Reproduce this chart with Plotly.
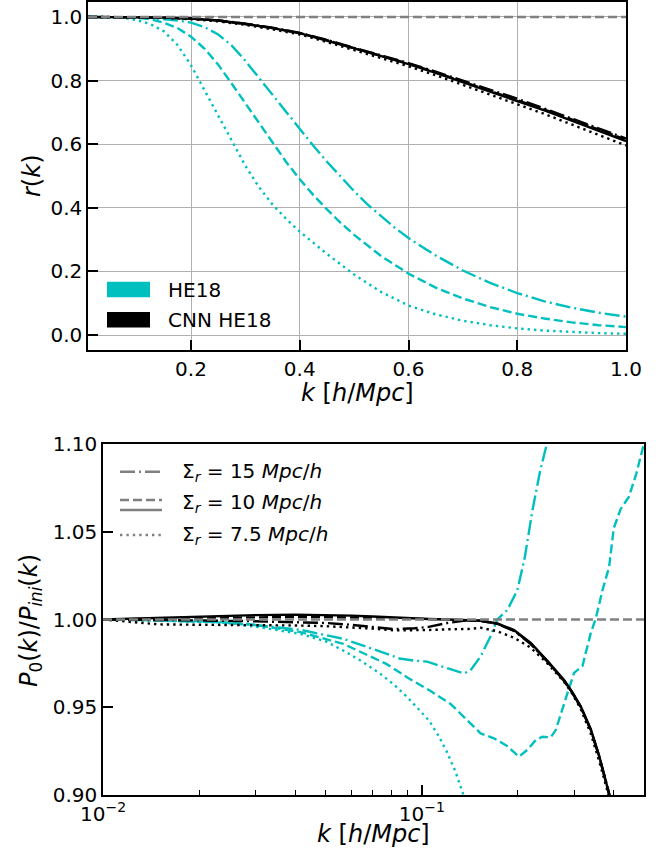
import math
import plotly.graph_objects as go

# ---------------- top panel: r(k) ----------------
k_top_he18_15 = [0.0105, 0.05, 0.1, 0.125, 0.15, 0.175, 0.2, 0.225, 0.25, 0.275, 0.3, 0.325, 0.35, 0.375, 0.4,
                 0.425, 0.45, 0.475, 0.5, 0.525, 0.55, 0.575, 0.6, 0.65, 0.7, 0.75, 0.8, 0.85, 0.9, 0.95, 1.0]
r_top_he18_15 = [1.0, 1.0, 0.999, 0.997, 0.994, 0.989, 0.982, 0.968, 0.945, 0.91, 0.862, 0.808, 0.754, 0.700, 0.648,
                 0.595, 0.545, 0.497, 0.452, 0.41, 0.372, 0.337, 0.305, 0.25, 0.203, 0.164, 0.132, 0.106, 0.086, 0.07, 0.058]

k_top_he18_10 = [0.0105, 0.05, 0.1, 0.125, 0.15, 0.175, 0.2, 0.225, 0.25, 0.275, 0.3, 0.325, 0.35, 0.375, 0.4,
                 0.425, 0.45, 0.475, 0.5, 0.55, 0.6, 0.65, 0.7, 0.75, 0.8, 0.85, 0.9, 0.95, 1.0]
r_top_he18_10 = [1.0, 1.0, 0.998, 0.993, 0.982, 0.965, 0.938, 0.9, 0.85, 0.79, 0.728, 0.664, 0.602, 0.544, 0.49,
                 0.44, 0.395, 0.353, 0.315, 0.248, 0.193, 0.149, 0.115, 0.088, 0.067, 0.052, 0.04, 0.031, 0.025]

k_top_he18_75 = [0.0105, 0.05, 0.075, 0.1, 0.125, 0.15, 0.175, 0.2, 0.225, 0.25, 0.275, 0.3, 0.325, 0.35, 0.375,
                 0.4, 0.45, 0.5, 0.55, 0.6, 0.65, 0.7, 0.75, 0.8, 0.85, 0.9, 0.95, 1.0]
r_top_he18_75 = [1.0, 0.999, 0.997, 0.99, 0.978, 0.955, 0.912, 0.848, 0.77, 0.69, 0.61, 0.532, 0.465, 0.41, 0.365,
                 0.325, 0.255, 0.19, 0.135, 0.093, 0.065, 0.045, 0.031, 0.021, 0.014, 0.009, 0.006, 0.004]

k_top_cnn = [0.0105, 0.05, 0.1, 0.15, 0.2, 0.25, 0.3, 0.35, 0.4, 0.45, 0.5, 0.55, 0.6, 0.65, 0.7, 0.75, 0.8,
             0.85, 0.9, 0.95, 1.0]
r_top_cnn_solid = [1.0, 1.0, 0.9995, 0.998, 0.995, 0.989, 0.978, 0.965, 0.949, 0.926, 0.901, 0.877, 0.852, 0.824,
                   0.795, 0.766, 0.737, 0.706, 0.674, 0.642, 0.61]
r_top_cnn_15 = [1.0, 1.0, 0.9995, 0.998, 0.995, 0.989, 0.979, 0.966, 0.95, 0.928, 0.903, 0.879, 0.855, 0.828,
                0.8, 0.771, 0.743, 0.712, 0.681, 0.65, 0.618]
r_top_cnn_10 = [1.0, 1.0, 0.9995, 0.998, 0.995, 0.989, 0.978, 0.965, 0.949, 0.927, 0.902, 0.878, 0.853, 0.826,
                0.797, 0.769, 0.74, 0.709, 0.678, 0.646, 0.614]
r_top_cnn_75 = [1.0, 1.0, 0.9993, 0.997, 0.993, 0.986, 0.975, 0.961, 0.945, 0.921, 0.896, 0.871, 0.845, 0.817,
                0.787, 0.757, 0.727, 0.695, 0.662, 0.629, 0.596]

top_xticks = [0.2, 0.4, 0.6, 0.8, 1.0]
top_yticks = [0.0, 0.2, 0.4, 0.6, 0.8, 1.0]
top_xrange = [0.0105, 1.0]
top_yrange = [-0.047, 1.047]

# ---------------- bottom panel: P0/Pini ----------------
k_bot_he18_15 = [0.01, 0.015, 0.0224, 0.03, 0.0416, 0.0567, 0.0741, 0.085, 0.095, 0.1039, 0.112, 0.12, 0.128,
                 0.1355, 0.142, 0.1528, 0.1642, 0.1723, 0.1853, 0.1992, 0.21, 0.222, 0.235, 0.248]
p_bot_he18_15 = [1.0, 0.9995, 0.9985, 0.9968, 0.9941, 0.989, 0.9817, 0.9778, 0.9765, 0.976, 0.974, 0.9722, 0.9705,
                 0.9693, 0.971, 0.979, 0.9905, 1.0, 1.0054, 1.0168, 1.035, 1.062, 1.085, 1.102]

k_bot_he18_10 = [0.01, 0.015, 0.0224, 0.03, 0.0416, 0.0567, 0.0773, 0.09, 0.1058, 0.123, 0.1434, 0.1528, 0.1682,
                 0.185, 0.2014, 0.215, 0.2274, 0.2386, 0.2535, 0.2628, 0.286, 0.300, 0.3187, 0.3384, 0.3509,
                 0.3684, 0.3864, 0.3995, 0.42, 0.4454, 0.47, 0.4964]
p_bot_he18_10 = [1.0, 0.9996, 0.9989, 0.997, 0.9928, 0.9861, 0.9747, 0.967, 0.9595, 0.9519, 0.9404, 0.9351, 0.9323,
                 0.928, 0.9218, 0.926, 0.9313, 0.9332, 0.9329, 0.937, 0.958, 0.9696, 0.9735, 0.9922, 1.0007,
                 1.0168, 1.030, 1.052, 1.063, 1.0698, 1.083, 1.10]

k_bot_he18_75 = [0.01, 0.015, 0.0224, 0.03, 0.0416, 0.05, 0.0567, 0.065, 0.0741, 0.0816, 0.09, 0.0975, 0.1054,
                 0.1125, 0.1193, 0.127, 0.134, 0.138]
p_bot_he18_75 = [1.0, 0.9993, 0.9985, 0.996, 0.9918, 0.9875, 0.9823, 0.976, 0.969, 0.963, 0.9557, 0.949, 0.9423,
                 0.934, 0.9252, 0.914, 0.902, 0.895]

k_bot_cnn = [0.01, 0.015, 0.02, 0.03, 0.04, 0.05, 0.06, 0.07, 0.082, 0.095, 0.105, 0.12, 0.14, 0.1528, 0.1723,
             0.1945, 0.2194, 0.2474, 0.2791, 0.2965, 0.3148, 0.3384, 0.3594, 0.382, 0.395]
p_bot_cnn_solid = [1.0, 1.001, 1.0018, 1.0025, 1.0028, 1.0027, 1.0022, 1.0017, 1.001, 1.0005, 1.0003, 1.0, 0.9998,
                   0.9993, 0.9978, 0.994, 0.9867, 0.9765, 0.9655, 0.9585, 0.9505, 0.9375, 0.9225, 0.905, 0.894]
p_bot_cnn_15 = [1.0, 0.9998, 0.9995, 0.999, 0.9985, 0.998, 0.997, 0.9957, 0.9945, 0.995, 0.9958, 0.998, 0.9996,
                0.9993, 0.9975, 0.9935, 0.986, 0.976, 0.965, 0.958, 0.95, 0.937, 0.922, 0.9045, 0.8935]
p_bot_cnn_10 = [1.0, 1.0005, 1.001, 1.0013, 1.0015, 1.0014, 1.0012, 1.001, 1.0007, 1.0004, 1.0002, 1.0, 0.9997,
                0.9992, 0.9976, 0.9937, 0.9863, 0.9762, 0.9652, 0.9582, 0.9502, 0.9372, 0.9222, 0.9047, 0.8937]
p_bot_cnn_75 = [1.0, 0.9972, 0.997, 0.997, 0.9966, 0.9962, 0.9955, 0.9948, 0.9938, 0.9937, 0.994, 0.9944, 0.9946,
                0.9953, 0.9933, 0.9896, 0.9839, 0.975, 0.9645, 0.9575, 0.949, 0.935, 0.9195, 0.902, 0.891]

bot_xticks = [0.01, 0.1]
bot_xticktext = ["10<sup>−2</sup>", "10<sup>−1</sup>"]
bot_xminor = [0.02, 0.03, 0.04, 0.05, 0.06, 0.07, 0.08, 0.09, 0.2, 0.3, 0.4]
bot_yticks = [0.90, 0.95, 1.00, 1.05, 1.10]
bot_xrange = [0.01, 0.497]
bot_yrange = [0.90, 1.10]

reference_value = 1.0

legend_top = ["HE18", "CNN HE18"]
legend_bot = ["Σ<sub><i>r</i></sub> = 15 <i>Mpc</i>/<i>h</i>",
              "Σ<sub><i>r</i></sub> = 10 <i>Mpc</i>/<i>h</i>",
              "Σ<sub><i>r</i></sub> = 7.5 <i>Mpc</i>/<i>h</i>"]

# ---------------- styling ----------------
W, H = 672, 856
CYAN = "#00bfbf"
GRAY = "#808080"
FONT = "DejaVu Sans"
LW = 2.4
DASH = "9px,4px"
DASHDOT = "15px,4px,2px,4px"
DOT = "2.4px,4px"


def px(x):
    return x / W


def py(y):
    return 1 - y / H


fig = go.Figure()


def add(x, y, color, dash, axis):
    xa, ya = ("x", "y") if axis == 1 else ("x2", "y2")
    fig.add_trace(go.Scatter(x=x, y=y, mode="lines", xaxis=xa, yaxis=ya, showlegend=False,
                             hoverinfo="skip", line=dict(color=color, width=LW, dash=dash)))


# top panel
add(k_top_he18_15, r_top_he18_15, CYAN, DASHDOT, 1)
add(k_top_he18_10, r_top_he18_10, CYAN, DASH, 1)
add(k_top_he18_75, r_top_he18_75, CYAN, DOT, 1)
add(k_top_cnn, r_top_cnn_15, "black", DASHDOT, 1)
add(k_top_cnn, r_top_cnn_10, "black", DASH, 1)
add(k_top_cnn, r_top_cnn_solid, "black", "solid", 1)
add(k_top_cnn, r_top_cnn_75, "black", DOT, 1)

# bottom panel
add(k_bot_he18_15, p_bot_he18_15, CYAN, DASHDOT, 2)
add(k_bot_he18_10, p_bot_he18_10, CYAN, DASH, 2)
add(k_bot_he18_75, p_bot_he18_75, CYAN, DOT, 2)
add(k_bot_cnn, p_bot_cnn_15, "black", DASHDOT, 2)
add(k_bot_cnn, p_bot_cnn_10, "black", DASH, 2)
add(k_bot_cnn, p_bot_cnn_solid, "black", "solid", 2)
add(k_bot_cnn, p_bot_cnn_75, "black", DOT, 2)

# reference lines
for xr, yr in (("x domain", "y"), ("x2 domain", "y2")):
    fig.add_shape(type="line", xref=xr, yref=yr, x0=0, x1=1, y0=reference_value, y1=reference_value,
                  line=dict(color=GRAY, width=LW, dash=DASH), layer="above")

tickfont = dict(family=FONT, size=20, color="black")
axis_common = dict(showline=True, linecolor="black", linewidth=1.5, mirror=True, ticks="inside",
                   ticklen=10, tickwidth=1.5, tickcolor="black", tickfont=tickfont, zeroline=False,
                   automargin=False)

fig.update_layout(
    template="none",
    width=W, height=H, autosize=False,
    margin=dict(l=0, r=0, t=0, b=0, pad=0),
    paper_bgcolor="white", plot_bgcolor="white",
    xaxis=dict(domain=[px(88), px(626)], anchor="y", range=top_xrange, tickvals=top_xticks,
               tickformat=".1f", showgrid=True, gridcolor="#b0b0b0", gridwidth=1, **axis_common),
    yaxis=dict(domain=[py(350), py(2)], anchor="x", range=top_yrange, tickvals=top_yticks,
               tickformat=".1f", showgrid=True, gridcolor="#b0b0b0", gridwidth=1, **axis_common),
    xaxis2=dict(domain=[px(103), px(644)], anchor="y2", type="log",
                range=[math.log10(bot_xrange[0]), math.log10(bot_xrange[1])],
                tickvals=bot_xticks, ticktext=bot_xticktext, showgrid=False,
                minor=dict(tickvals=bot_xminor, ticks="inside", ticklen=5, tickwidth=1.2,
                           tickcolor="black", showgrid=False),
                **axis_common),
    yaxis2=dict(domain=[py(795), py(444)], anchor="x2", range=bot_yrange, tickvals=bot_yticks,
                tickformat=".2f", showgrid=False, **axis_common),
)

# axis titles
title_font = dict(family=FONT, size=24, color="black")
fig.add_annotation(text="<i>k</i> [<i>h</i>/<i>Mpc</i>]", xref="paper", yref="paper",
                   x=px(357), y=py(393), xanchor="center", yanchor="middle", showarrow=False, font=title_font)
fig.add_annotation(text="<i>r</i>(<i>k</i>)", xref="paper", yref="paper", textangle=-90,
                   x=px(32), y=py(176), xanchor="center", yanchor="middle", showarrow=False, font=title_font)
fig.add_annotation(text="<i>k</i> [<i>h</i>/<i>Mpc</i>]", xref="paper", yref="paper",
                   x=px(373), y=py(834), xanchor="center", yanchor="middle", showarrow=False, font=title_font)
fig.add_annotation(text="<i>P</i><sub>0</sub>(<i>k</i>)/<i>P</i><sub><i>ini</i></sub>(<i>k</i>)",
                   xref="paper", yref="paper", textangle=-90,
                   x=px(30), y=py(621), xanchor="center", yanchor="middle", showarrow=False, font=title_font)

# top legend (colour patches)
legfont = dict(family=FONT, size=20, color="black")
for label, color, yc in zip(legend_top, [CYAN, "black"], [289.5, 319.7]):
    fig.add_shape(type="rect", xref="paper", yref="paper", x0=px(107), x1=px(150),
                  y0=py(yc - 7.8), y1=py(yc + 7.8), fillcolor=color, line=dict(width=0), layer="above")
    fig.add_annotation(text=label, xref="paper", yref="paper", x=px(166), y=py(yc),
                       xanchor="left", yanchor="middle", showarrow=False, font=legfont)

# bottom legend (line styles)
leg_lines = [[(471.7, DASHDOT)], [(500, DASH), (510, "solid")], [(535, DOT)]]
for label, lines, yc in zip(legend_bot, leg_lines, [471.7, 503.3, 535]):
    for yl, dash in lines:
        fig.add_shape(type="line", xref="paper", yref="paper", x0=px(120), x1=px(162),
                      y0=py(yl), y1=py(yl), line=dict(color=GRAY, width=LW, dash=dash), layer="above")
    fig.add_annotation(text=label, xref="paper", yref="paper", x=px(180), y=py(yc),
                       xanchor="left", yanchor="middle", showarrow=False, font=legfont)

fig.write_html("out.html")
